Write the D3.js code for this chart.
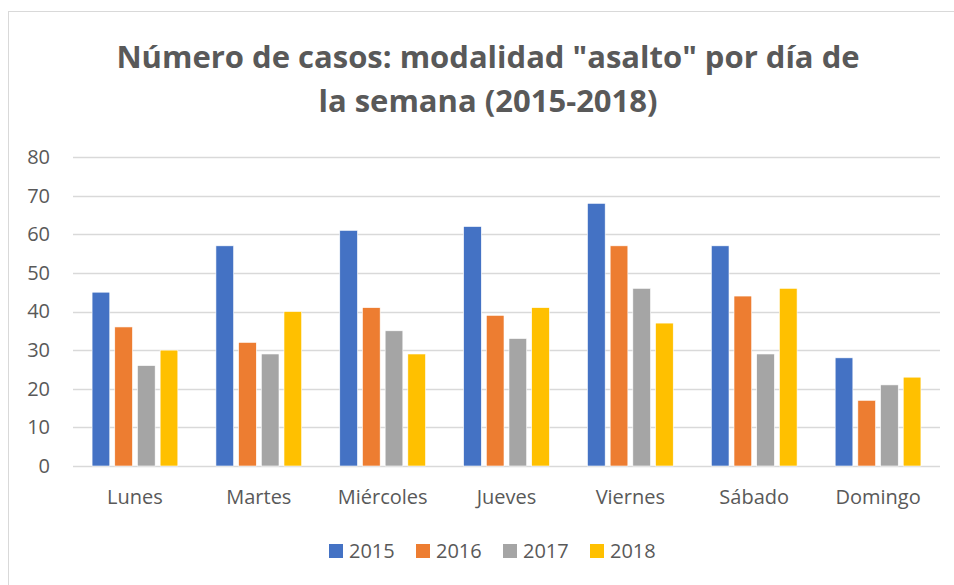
<!DOCTYPE html>
<html>
<head>
<meta charset="utf-8">
<script src="https://cdn.jsdelivr.net/npm/d3@7"></script>
<style>
  body { margin: 0; background: #fff; }
  svg { display: block; }
  svg text { font-family: "Open Sans", "Noto Sans", sans-serif; }
</style>
</head>
<body>
<svg id="chart" width="954" height="585"></svg>
<script>
// data
var days = ['Lunes', 'Martes', 'Miércoles', 'Jueves', 'Viernes', 'Sábado', 'Domingo'];
var years = ['2015', '2016', '2017', '2018'];
var v2015 = [45, 57, 61, 62, 68, 57, 28];
var v2016 = [36, 32, 41, 39, 57, 44, 17];
var v2017 = [26, 29, 35, 33, 46, 29, 21];
var v2018 = [30, 40, 29, 41, 37, 46, 23];
var yTicks = [0, 10, 20, 30, 40, 50, 60, 70, 80];
var colors = ['#4472c4', '#ed7d31', '#a5a5a5', '#ffc000'];

var series = [v2015, v2016, v2017, v2018];
var rows = days.map(function (d, i) {
    return {day: d, values: years.map(function (y, j) { return {year: y, value: series[j][i]}; })};
});

var svg = d3.select('#chart');
var textColor = '#595959';

// chart frame
svg.append('rect')
    .attr('x', 8.5).attr('y', 11.5)
    .attr('width', 960).attr('height', 600)
    .attr('fill', 'none').attr('stroke', '#d9d9d9');

// title
var title = svg.append('text')
    .attr('text-anchor', 'middle')
    .attr('fill', textColor)
    .attr('font-weight', 'bold')
    .attr('font-size', 31);
title.append('tspan').attr('x', 488).attr('y', 68).text('Número de casos: modalidad "asalto" por día de');
title.append('tspan').attr('x', 488).attr('y', 112).text('la semana (2015-2018)');

var margin = {left: 73, right: 14, top: 157, bottom: 119};
var width = 954 - margin.left - margin.right,
    height = 585 - margin.top - margin.bottom;

var g = svg.append('g').attr('transform', 'translate(' + margin.left + ',' + margin.top + ')');

var x0 = d3.scaleBand().domain(days).range([0, width]).paddingInner(0.3075).paddingOuter(0.154);
var x1 = d3.scaleBand().domain(years).range([0, x0.bandwidth()]).paddingInner(0.22);
var y = d3.scaleLinear().domain([0, 80]).range([height, 0]);

// gridlines
g.append('g').selectAll('line').data(yTicks).enter().append('line')
    .attr('x1', 0).attr('x2', width)
    .attr('y1', function (d) { return Math.round(y(d)) + 0.5; })
    .attr('y2', function (d) { return Math.round(y(d)) + 0.5; })
    .attr('stroke', '#d9d9d9').attr('stroke-width', 1.5);

// y axis labels
var yAxis = d3.axisLeft(y).tickValues(yTicks).tickSize(0).tickPadding(23);
g.append('g').call(yAxis)
    .attr('font-family', null)
    .call(function (s) { s.select('.domain').remove(); })
    .selectAll('text')
    .attr('fill', textColor).attr('font-size', 20);

// bars
var groups = g.append('g').selectAll('g').data(rows).enter().append('g')
    .attr('transform', function (d) { return 'translate(' + x0(d.day) + ',0)'; });

groups.selectAll('rect').data(function (d) { return d.values; }).enter().append('rect')
    .attr('x', function (d) { return x1(d.year); })
    .attr('y', function (d) { return y(d.value); })
    .attr('width', x1.bandwidth())
    .attr('height', function (d) { return height - y(d.value); })
    .attr('fill', function (d, i) { return colors[i]; })
    .attr('stroke', '#fff').attr('stroke-width', 0.6);

// x axis labels
var xAxis = d3.axisBottom(x0).tickSize(0).tickPadding(24);
g.append('g').attr('transform', 'translate(0,' + height + ')').call(xAxis)
    .attr('font-family', null)
    .call(function (s) { s.select('.domain').remove(); })
    .selectAll('text')
    .attr('fill', textColor).attr('font-size', 20);

// legend
var legendX = [329, 416, 503, 590];
var legend = svg.append('g').selectAll('g').data(years).enter().append('g')
    .attr('transform', function (d, i) { return 'translate(' + legendX[i] + ',544)'; });
legend.append('rect')
    .attr('width', 14).attr('height', 14)
    .attr('fill', function (d, i) { return colors[i]; });
legend.append('text')
    .attr('x', 20).attr('y', 14)
    .attr('fill', textColor).attr('font-size', 20)
    .text(function (d) { return d; });
</script>
</body>
</html>
